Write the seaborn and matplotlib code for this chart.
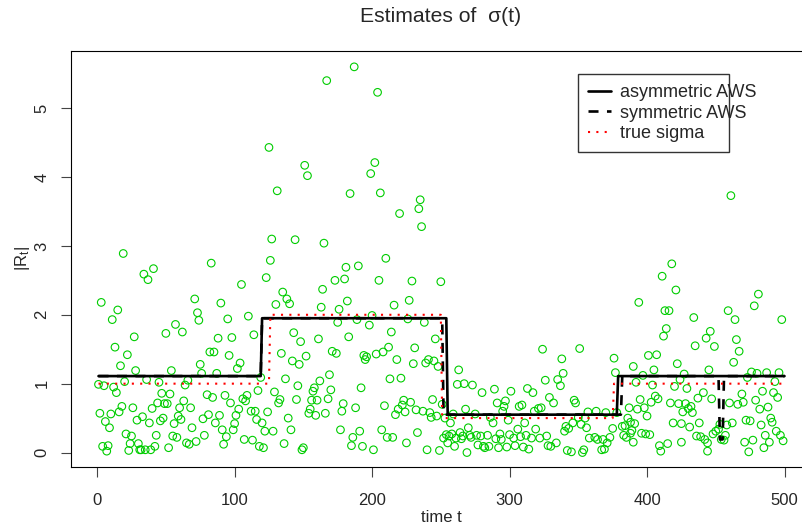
import matplotlib
matplotlib.use("Agg")
import matplotlib.pyplot as plt
from matplotlib.lines import Line2D
from matplotlib.patches import Rectangle
import seaborn as sns

t_obs = [19, 34, 41, 37, 3, 15, 11, 27, 50, 57, 13, 22, 17, 28, 54, 36, 45, 20, 1, 5,
         12, 14, 47, 53, 44, 49, 51, 2, 10, 16, 18, 26, 40, 6, 9, 29, 33, 38, 46, 48,
         56, 21, 25, 43, 55, 4, 8, 7, 24, 23, 30, 31, 35, 32, 39, 42, 52,
         125, 127, 126, 123, 83, 105, 71, 90, 73, 74, 95, 110, 62, 114, 88, 98, 82, 85, 96,
         75, 104, 102, 76, 87, 119, 66, 64, 80, 84, 93, 109, 106, 108, 117, 63, 60, 68, 97,
         112, 115, 124, 59, 61, 77, 81, 89, 103, 101, 86, 100, 116, 120, 69, 91, 99, 122, 58,
         78, 94, 107, 113, 65, 67, 72, 92, 121, 118,
         187, 167, 151, 153, 131, 184, 144, 165, 181, 190, 173, 180, 135, 138, 140, 130, 164,
         163, 182, 176, 175, 189, 143, 148, 161, 183, 134, 152, 171, 174, 142, 147, 137, 146,
         169, 162, 158, 157, 170, 129, 133, 132, 145, 156, 160, 168, 179, 178, 188, 155, 154,
         159, 166, 139, 141, 177, 186, 185, 136, 150, 149, 128,
         204, 202, 199, 206, 235, 234, 220, 236, 210, 205, 229, 250, 216, 227, 200, 198, 226,
         238, 214, 246, 212, 208, 231, 203, 194, 196, 195, 218, 230, 239, 241, 245, 248, 213,
         221, 192, 244, 251, 209, 223, 228, 222, 219, 217, 224, 232, 237, 242, 243, 247, 253,
         191, 207, 211, 215, 233, 193, 201, 225, 240, 249, 252, 254, 255,
         263, 262, 267, 273, 280, 289, 301, 313, 317, 291, 297, 296, 295, 307, 309, 268, 275,
         259, 318, 321, 286, 288, 299, 257, 270, 306, 311, 319, 256, 258, 264, 266, 271, 276,
         279, 284, 290, 293, 294, 300, 303, 308, 312, 316, 261, 265, 272, 277, 281, 282, 285,
         260, 269, 292, 298, 304, 310, 314,
         324, 351, 338, 376, 339, 335, 337, 326, 377, 329, 332, 347, 348, 323, 357, 363, 370,
         378, 350, 355, 341, 343, 346, 340, 356, 352, 375, 382, 322, 327, 334, 330, 328, 358,
         362, 364, 368, 373, 371, 342, 345, 353, 354, 367, 369, 383, 385,
         418, 411, 421, 394, 413, 416, 434, 414, 412, 446, 443, 435, 449, 401, 407, 390, 422,
         405, 397, 427, 445, 392, 404, 420, 424, 429, 441, 437, 447, 406, 408, 395, 387, 393,
         398, 403, 400, 417, 423, 428, 432, 433, 426, 430, 419, 425, 431, 386, 391, 388, 384,
         389, 388, 396, 399, 402, 438, 436, 439, 442, 444, 448, 450, 390, 409, 410, 415, 425,
         444,
         461, 481, 478, 459, 464, 498, 465, 467, 463, 476, 480, 487, 496, 473, 493, 484, 492,
         495, 469, 470, 479, 482, 488, 460, 466, 462, 458, 472, 475, 483, 490, 491, 486, 494,
         497, 499, 453, 452, 454, 456, 457, 471, 477, 474, 489, 485]

r_obs = [2.89, 2.59, 2.67, 2.51, 2.18, 2.07, 1.93, 1.68, 1.73, 1.86, 1.53, 1.42, 1.26, 1.19, 1.19, 1.06, 1.02, 1.03, 0.99, 0.97,
         0.95, 0.87, 0.86, 0.85, 0.72, 0.71, 0.71, 0.57, 0.56, 0.59, 0.67, 0.65, 0.64, 0.45, 0.36, 0.47, 0.52, 0.43, 0.46, 0.50,
         0.42, 0.27, 0.24, 0.25, 0.24, 0.09, 0.10, 0.02, 0.13, 0.03, 0.13, 0.04, 0.04, 0.04, 0.04, 0.09, 0.07,
         4.43, 3.10, 2.79, 2.54, 2.75, 2.44, 2.23, 2.17, 2.03, 1.92, 1.94, 1.98, 1.75, 1.71, 1.66, 1.67, 1.46, 1.46, 1.41,
         1.28, 1.30, 1.22, 1.15, 1.15, 1.09, 1.05, 0.98, 0.84, 0.80, 0.83, 0.83, 0.78, 0.75, 0.90, 0.75, 0.65, 0.65, 0.72,
         0.60, 0.60, 0.59, 0.53, 0.48, 0.49, 0.55, 0.54, 0.63, 0.54, 0.43, 0.42, 0.48, 0.43, 0.36, 0.33, 0.33, 0.31, 0.22,
         0.25, 0.23, 0.19, 0.18, 0.14, 0.12, 0.16, 0.12, 0.07, 0.09,
         5.60, 5.40, 4.17, 4.02, 3.80, 3.76, 3.09, 3.04, 2.69, 2.71, 2.50, 2.52, 2.33, 2.23, 2.16, 2.15, 2.37,
         2.11, 2.20, 2.08, 1.89, 1.93, 1.74, 1.61, 1.65, 1.68, 1.44, 1.40, 1.47, 1.44, 1.33, 1.28, 1.07, 0.97,
         1.13, 1.04, 0.94, 0.89, 0.91, 0.88, 0.77, 0.72, 0.77, 0.76, 0.76, 0.78, 0.71, 0.60, 0.65, 0.63, 0.57,
         0.54, 0.57, 0.50, 0.33, 0.33, 0.22, 0.10, 0.13, 0.07, 0.04, 0.31,
         5.23, 4.21, 4.05, 3.77, 3.67, 3.54, 3.47, 3.28, 2.82, 2.50, 2.49, 2.48, 2.14, 2.21, 1.99, 1.85, 1.94,
         1.89, 1.75, 1.65, 1.53, 1.46, 1.52, 1.43, 1.41, 1.39, 1.35, 1.35, 1.29, 1.30, 1.35, 1.33, 1.25, 1.07,
         1.08, 0.94, 0.77, 0.70, 0.68, 0.76, 0.73, 0.69, 0.63, 0.55, 0.59, 0.62, 0.60, 0.58, 0.51, 0.53, 0.50,
         0.31, 0.33, 0.22, 0.22, 0.29, 0.09, 0.04, 0.14, 0.04, 0.03, 0.21, 0.26, 0.14,
         1.20, 0.99, 1.00, 0.98, 0.87, 0.92, 0.89, 0.93, 0.87, 0.72, 0.75, 0.67, 0.60, 0.67, 0.69, 0.63, 0.56,
         0.56, 0.60, 0.64, 0.51, 0.43, 0.47, 0.43, 0.36, 0.34, 0.43, 0.34, 0.24, 0.27, 0.29, 0.24, 0.25, 0.25,
         0.24, 0.25, 0.20, 0.27, 0.19, 0.26, 0.21, 0.23, 0.25, 0.21, 0.21, 0.20, 0.22, 0.11, 0.09, 0.07, 0.09,
         0.09, 0.00, 0.07, 0.08, 0.10, 0.08, 0.05,
         1.50, 1.51, 1.36, 1.37, 1.15, 1.06, 0.97, 1.05, 1.16, 0.80, 0.72, 0.76, 0.72, 0.65, 0.59, 0.60, 0.58,
         0.58, 0.51, 0.50, 0.38, 0.35, 0.43, 0.31, 0.36, 0.41, 0.35, 0.38, 0.21, 0.24, 0.14, 0.09, 0.10, 0.21,
         0.22, 0.19, 0.19, 0.22, 0.14, 0.03, 0.01, 0.00, 0.04, 0.04, 0.05, 0.25, 0.22,
         2.74, 2.56, 2.36, 2.18, 2.06, 2.06, 1.96, 1.80, 1.69, 1.76, 1.66, 1.55, 1.54, 1.41, 1.42, 1.25, 1.29,
         1.20, 1.12, 1.14, 1.20, 1.02, 0.98, 0.96, 1.06, 0.93, 0.87, 0.79, 0.78, 0.82, 0.78, 0.77, 0.65, 0.63,
         0.65, 0.73, 0.53, 0.72, 0.71, 0.71, 0.67, 0.58, 0.59, 0.64, 0.43, 0.42, 0.37, 0.50, 0.42, 0.44, 0.39,
         0.32, 0.28, 0.28, 0.27, 0.26, 0.43, 0.24, 0.23, 0.19, 0.14, 0.27, 0.31, 0.15, 0.10, 0.02, 0.13, 0.15,
         0.02,
         3.73, 2.30, 2.13, 2.06, 1.93, 1.93, 1.64, 1.47, 1.31, 1.17, 1.15, 1.16, 1.16, 1.09, 1.03, 0.89, 0.87,
         0.80, 0.85, 0.73, 0.76, 0.63, 0.66, 0.72, 0.70, 0.43, 0.40, 0.47, 0.46, 0.40, 0.50, 0.44, 0.25, 0.31,
         0.25, 0.17, 0.41, 0.34, 0.19, 0.18, 0.25, 0.15, 0.18, 0.01, 0.15, 0.07]

# step estimates (breakpoints in time, level)
t_asym = [1, 119, 120, 254, 255, 378, 379, 500]
s_asym = [1.11, 1.11, 1.95, 1.95, 0.55, 0.55, 1.11, 1.11]

t_sym = [1, 119, 120, 251, 252, 381, 382, 452, 453, 455, 456, 500]
s_sym = [1.11, 1.11, 1.95, 1.95, 0.55, 0.55, 1.11, 1.11, 0.19, 0.19, 1.11, 1.11]

t_true = [1, 125, 126, 250, 251, 375, 376, 500]
s_true = [1.0, 1.0, 2.0, 2.0, 0.5, 0.5, 1.0, 1.0]

legend_labels = ["asymmetric AWS", "symmetric AWS", "true sigma"]

sns.set_style("white")
plt.rcParams["font.family"] = ["Liberation Sans", "DejaVu Sans"]
plt.rcParams["mathtext.fontset"] = "custom"
plt.rcParams["mathtext.rm"] = "Liberation Sans"
plt.rcParams["mathtext.it"] = "Liberation Sans"
plt.rcParams["mathtext.default"] = "rm"

dash_sym = (0, (3.8, 3.2))
dot_true = (0, (1, 3))

fig = plt.figure(figsize=(8.03, 5.29), dpi=100)
ax = fig.add_axes([71 / 803, 62 / 529, 741 / 803, 416 / 529])

sns.scatterplot(x=t_obs, y=r_obs, ax=ax, marker="o", s=30,
                facecolor="none", edgecolor="#00cd00", linewidth=0.8)
sns.lineplot(x=t_asym, y=s_asym, ax=ax, color="black", lw=1.9,
             estimator=None, sort=False)
sns.lineplot(x=t_sym, y=s_sym, ax=ax, color="black", lw=1.9,
             linestyle=dash_sym, estimator=None, sort=False)
sns.lineplot(x=t_true, y=s_true, ax=ax, color="red", lw=1.5,
             linestyle=dot_true, estimator=None, sort=False)

ax.set_xlim(-19, 520)
ax.set_ylim(-0.21, 5.83)
ax.set_xticks([0, 100, 200, 300, 400, 500])
ax.set_yticks([0, 1, 2, 3, 4, 5])
for sp in ax.spines.values():
    sp.set_color("black")
    sp.set_linewidth(0.8)
ax.tick_params(axis="both", direction="out", length=7.5, width=0.8,
               color="#444444", labelsize=12, left=True, bottom=True)
ax.tick_params(axis="x", pad=11)
ax.tick_params(axis="y", pad=8)
for lab in ax.get_yticklabels():
    lab.set_rotation(90)
    lab.set_va("center")

ax.set_xlabel("time t", fontsize=12)
ax.set_ylabel(r"$|R_t|$", fontsize=12)
ax.xaxis.set_label_coords(441 / 803, 11 / 529, transform=fig.transFigure)
ax.yaxis.set_label_coords(23 / 803, 1 - 258 / 529, transform=fig.transFigure)
ax.xaxis.label.set_va("center")
ax.yaxis.label.set_va("center")

fig.text(441 / 803, 1 - 17 / 529, "Estimates of  σ(t)", ha="center", va="center",
         fontsize=15.2)

# legend box drawn separately: the labels run past its right edge as in the original
box = Rectangle((578 / 803, 1 - 152 / 529), 151 / 803, 78 / 529,
                transform=fig.transFigure, facecolor="white",
                edgecolor="#333333", lw=1.0, zorder=5, clip_on=False)
ax.add_patch(box)

handles = [Line2D([], [], color="black", lw=1.9),
           Line2D([], [], color="black", lw=1.9, linestyle=dash_sym),
           Line2D([], [], color="red", lw=1.5, linestyle=dot_true)]
leg = ax.legend(handles, legend_labels, loc="center left",
                bbox_to_anchor=(588 / 803, 1 - 113 / 529),
                bbox_transform=fig.transFigure, frameon=False, fontsize=13,
                handlelength=1.28, handletextpad=0.5, labelspacing=0.2,
                borderpad=0, borderaxespad=0)
leg.set_zorder(6)

fig.savefig("out.png", dpi=100)
